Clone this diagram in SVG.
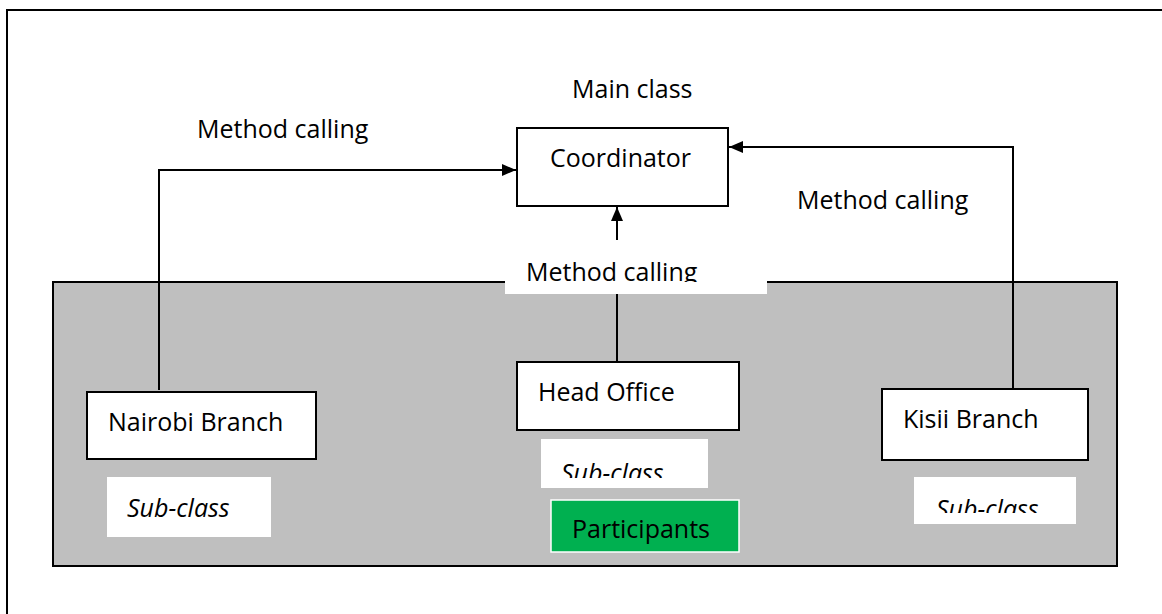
<svg xmlns="http://www.w3.org/2000/svg" width="1162" height="614" viewBox="0 0 1162 614">
<style>
text{font-family:"Open Sans","Liberation Sans",sans-serif;font-size:25px;fill:#000}
.it{font-style:italic}
.box{fill:#fff;stroke:#000;stroke-width:2}
.lbl{fill:#fff}
.con{fill:none;stroke:#000;stroke-width:2}
</style>
<defs>
<marker id="ah" viewBox="0 0 14 12" refX="14" refY="6" markerWidth="14" markerHeight="12" markerUnits="userSpaceOnUse" orient="auto">
<path d="M0,0 L14,6 L0,12 Z" fill="#000"/>
</marker>
<clipPath id="c1"><rect x="505" y="250" width="262" height="32"/></clipPath>
<clipPath id="c2"><rect x="541" y="439" width="167" height="39"/></clipPath>
<clipPath id="c3"><rect x="914" y="477" width="162" height="36"/></clipPath>
</defs>
<rect x="7" y="10" width="1160" height="610" fill="#fff" stroke="#000" stroke-width="2"/>
<g id="container">
<rect x="53" y="282" width="1064" height="284" fill="#bfbfbf" stroke="#000" stroke-width="2"/>
</g>
<g id="mid-label">
<rect class="lbl" x="505" y="250" width="262" height="44"/>
<text x="526" y="281" clip-path="url(#c1)">Method calling</text>
</g>
<g id="connectors">
<polyline class="con" points="159,390 159,170 516,170" marker-end="url(#ah)"/>
<polyline class="con" points="1013,389 1013,147 729,147" marker-end="url(#ah)"/>
<line class="con" x1="617" y1="240" x2="617" y2="207" marker-end="url(#ah)"/>
<line class="con" x1="617" y1="294" x2="617" y2="362"/>
</g>
<g id="labels">
<text x="572" y="98">Main class</text>
<text x="197" y="138">Method calling</text>
<text x="797" y="209">Method calling</text>
</g>
<g id="coordinator">
<rect class="box" x="517" y="128" width="211" height="78"/>
<text x="550" y="167">Coordinator</text>
</g>
<g id="nairobi">
<rect class="box" x="87" y="392" width="229" height="67"/>
<text x="108" y="431">Nairobi Branch</text>
<rect class="lbl" x="107" y="477" width="164" height="60"/>
<text class="it" x="127" y="517">Sub-class</text>
</g>
<g id="head-office">
<rect class="box" x="517" y="362" width="222" height="68"/>
<text x="538" y="401">Head Office</text>
<rect class="lbl" x="541" y="439" width="167" height="49"/>
<text class="it" x="561" y="482" clip-path="url(#c2)">Sub-class</text>
<rect x="551" y="500" width="188" height="52" fill="#00b050" stroke="#fff" stroke-width="1.5"/>
<text x="572" y="538">Participants</text>
</g>
<g id="kisii">
<rect class="box" x="882" y="389" width="206" height="71"/>
<text x="903" y="428">Kisii Branch</text>
<rect class="lbl" x="914" y="477" width="162" height="47"/>
<text class="it" x="936" y="518" clip-path="url(#c3)">Sub-class</text>
</g>
</svg>
